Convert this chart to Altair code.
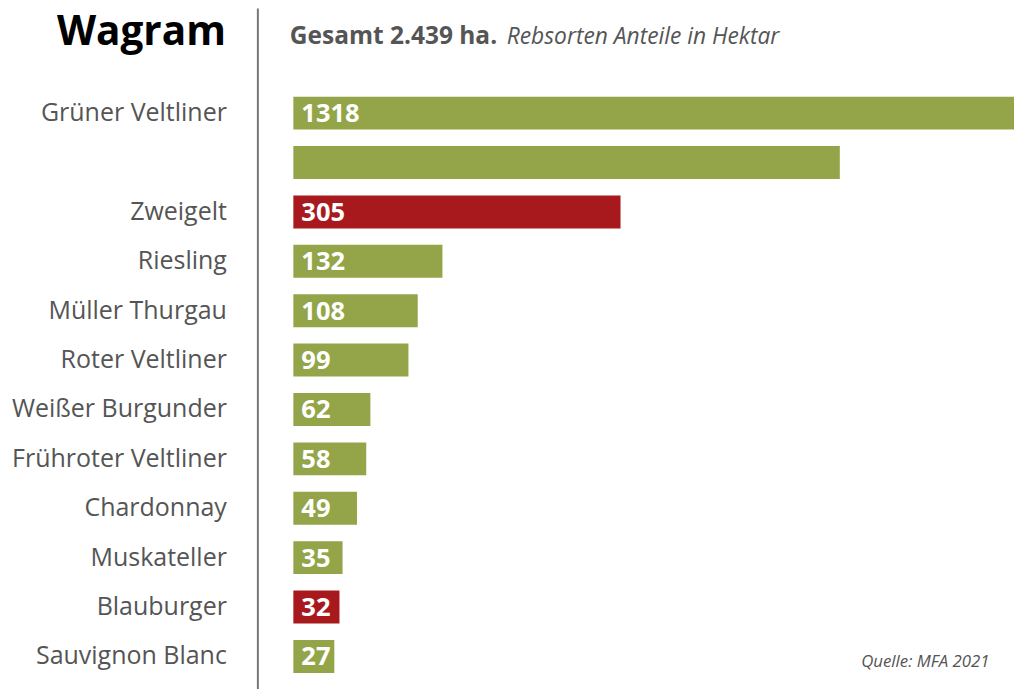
import altair as alt
import pandas as pd

# --- data ---
sorten = ["Grüner Veltliner", " ", "Zweigelt", "Riesling", "Müller Thurgau",
          "Roter Veltliner", "Weißer Burgunder", "Frühroter Veltliner",
          "Chardonnay", "Muskateller", "Blauburger", "Sauvignon Blanc"]
hektar = [1318, 518, 305, 132, 108, 99, 62, 58, 49, 35, 32, 27]
labels = ["1318", "", "305", "132", "108", "99", "62", "58", "49", "35", "32", "27"]
farbe = ["weiss", "weiss", "rot", "weiss", "weiss", "weiss", "weiss", "weiss",
         "weiss", "weiss", "rot", "weiss"]

df = pd.DataFrame({"sorte": sorten, "ha": hektar, "label": labels, "farbe": farbe})
one = pd.DataFrame({"k": [0]})

FONT = "Open Sans"
W, H = 721, 593
BASE = -12.8

xscale = alt.Scale(domain=[BASE, 687.2], clamp=True, nice=False, zero=False)
yenc = alt.Y("sorte:N", sort=sorten,
             scale=alt.Scale(paddingInner=0.333, paddingOuter=0.1667),
             axis=alt.Axis(title=None, ticks=False, domain=False, grid=False,
                           labelFont=FONT, labelFontSize=25, labelColor="#555555",
                           labelPadding=67, labelLimit=400))

bars = alt.Chart(df).mark_bar().encode(
    x=alt.X("ha:Q", scale=xscale, axis=None),
    x2=alt.datum(BASE),
    y=yenc,
    color=alt.Color("farbe:N", scale=alt.Scale(domain=["weiss", "rot"],
                                               range=["#93a548", "#a8191e"]),
                    legend=None),
)

text = alt.Chart(df).mark_text(align="left", baseline="middle", font=FONT,
                               fontWeight="bold", fontSize=25.5, color="white",
                               dx=8, dy=1).encode(
    x=alt.datum(BASE),
    y=alt.Y("sorte:N", sort=sorten),
    text="label:N",
)

vline = alt.Chart(one).mark_rule(color="#777777", strokeWidth=2).encode(
    x=alt.value(-35.5), y=alt.value(-80), y2=alt.value(H + 8)
)

title = alt.Chart(one).mark_text(text="Wagram", align="right", baseline="alphabetic",
                                 font=FONT, fontWeight="bold", fontSize=40.5,
                                 color="#000000").encode(
    x=alt.value(-67.5), y=alt.value(-43.5)
)
sub1 = alt.Chart(one).mark_text(text="Gesamt 2.439 ha.", align="left",
                                baseline="alphabetic", font=FONT, fontWeight="bold",
                                fontSize=24.5, color="#555555").encode(
    x=alt.value(-3.5), y=alt.value(-44)
)
sub2 = alt.Chart(one).mark_text(text="Rebsorten Anteile in Hektar", align="left",
                                baseline="alphabetic", font=FONT, fontStyle="italic",
                                fontSize=22.8, color="#555555").encode(
    x=alt.value(213.5), y=alt.value(-44)
)
source = alt.Chart(one).mark_text(text="Quelle: MFA 2021", align="right",
                                  baseline="alphabetic", font=FONT, fontStyle="italic",
                                  fontSize=16.8, color="#555555").encode(
    x=alt.value(696.5), y=alt.value(578.5)
)

chart = alt.layer(bars, text, vline, title, sub1, sub2, source).properties(
    width=W, height=H,
    autosize=alt.AutoSizeParams(type="none"),
    padding={"left": 285.5, "top": 80.3, "right": 2, "bottom": 8},
    background="white",
).configure_view(stroke=None)

chart.save("out.html", embed_options={"renderer": "svg", "actions": False})
